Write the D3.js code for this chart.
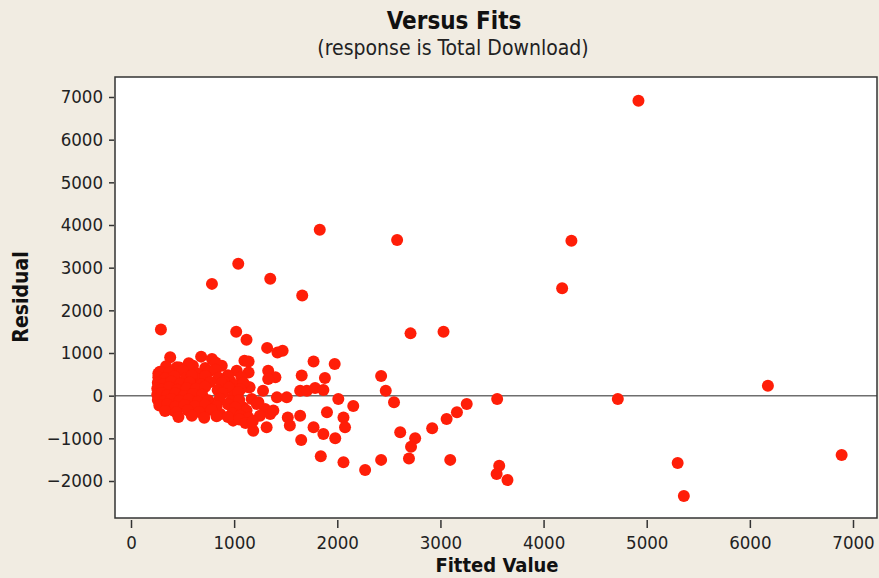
<!DOCTYPE html>
<html lang="en">

<head>
    <meta charset="UTF-8">
    <title>Versus Fits</title>
    <style>
        body { margin: 0; background: #f1ece2; }
        text { font-family: "DejaVu Sans Condensed", "DejaVu Sans", sans-serif; }
    </style>
    <script src="https://d3js.org/d3.v7.min.js"></script>
</head>

<body>
    <script>
        // fitted value / residual pairs
        var fitted = [
            4920, 1830, 2580, 4270, 1040, 1350, 785, 4180, 1660, 290,
            3030, 2710, 1020, 1120, 6175, 4720, 3550, 6890, 5300, 5360,
            1770, 1975, 1655, 1880, 2425, 1640, 1705, 1785, 1865, 2470,
            2010, 2550, 2155, 3255, 3160, 3060, 2920, 1900, 2060, 2075,
            1640, 1770, 1865, 1980, 1650, 2610, 2755, 2715, 2695, 2425,
            3095, 1840, 2060, 2270, 3570, 3545, 3650,
            1320, 1420, 1470, 1100, 1140, 1330, 1400, 1330, 1280, 1140,
            1415, 1510, 1170, 1235, 1300, 1350, 1250, 1155, 1185, 1315,
            1520, 1540, 1380, 1220, 1090, 1120, 990, 865, 735, 410, 280,
            380, 680, 785, 445, 570, 880, 1025, 1140, 265, 960, 1150,
            340, 470, 600, 720, 560, 820,
            280, 370, 500, 640, 760, 820, 940,
            265, 330, 420, 530, 650, 720, 850, 900, 1070, 590,
            260, 310, 390, 480, 570, 680, 770, 880, 1000, 1090,
            255, 300, 370, 450, 540, 630, 720, 840, 950, 1060,
            255, 300, 350, 430, 510, 600, 690, 890, 990, 1040,
            260, 320, 390, 470, 560, 650, 750, 860, 970, 1050,
            275, 350, 430, 520, 620, 720, 830, 940, 1010,
            330, 440, 550, 660, 780, 980, 1060, 1140,
            460, 590, 710, 830, 940, 1050, 1110, 1180
        ];
        var residual = [
            6910, 3890, 3650, 3630, 3090, 2740, 2620, 2520, 2350, 1550,
            1500, 1460, 1500, 1310, 230, -80, -80, -1390, -1580, -2350,
            800, 740, 470, 415, 460, 115, 115, 180, 135, 115,
            -80, -155, -240, -195, -390, -545, -765, -390, -510, -740,
            -470, -740, -900, -1000, -1040, -860, -1000, -1195, -1470, -1505,
            -1505, -1420, -1560, -1740, -1640, -1835, -1975,
            1120, 1010, 1050, 820, 800, 585, 430, 390, 115, 195,
            -40, -40, -80, -155, -310, -430, -470, -625, -820, -740,
            -510, -700, -350, -195, -275, -350, -585, -430, -350, -350, -195,
            900, 915, 860, 665, 625, 700, 585, 545, 520, 350, 195,
            690, 660, 700, 650, 760, 780,
            560, 540, 590, 520, 570, 610, 480,
            430, 400, 450, 410, 380, 460, 420, 330, 440, 480,
            300, 270, 330, 280, 310, 260, 320, 290, 250, 300,
            170, 150, 200, 140, 180, 160, 210, 130, 190, 150,
            30, 60, 10, 50, -10, 40, 20, 60, -20, 80,
            -100, -130, -80, -120, -90, -140, -110, -70, -130, -100,
            -230, -200, -260, -220, -250, -210, -240, -200, -280,
            -360, -390, -340, -380, -330, -420, -470, -520,
            -500, -470, -520, -480, -500, -560, -640, -600
        ];
        var xTicks = [0, 1000, 2000, 3000, 4000, 5000, 6000, 7000];
        var yTicks = [-2000, -1000, 0, 1000, 2000, 3000, 4000, 5000, 6000, 7000];

        var width = 879, height = 578;
        var frame = { left: 115, top: 77, right: 877, bottom: 518 };

        var svg = d3.select("body")
            .append("svg")
            .attr("width", width)
            .attr("height", height)
            .style("display", "block")
            .style("background", "#f1ece2");

        var x = d3.scaleLinear().domain([0, 7000]).range([131, 853]);
        var y = d3.scaleLinear().domain([-2000, 7000]).range([481, 97]);

        // titles
        svg.append("text").attr("x", 454).attr("y", 29).attr("text-anchor", "middle")
            .attr("font-size", "24px").attr("font-weight", "bold").attr("fill", "#111").text("Versus Fits");
        svg.append("text").attr("x", 453).attr("y", 55).attr("text-anchor", "middle")
            .attr("font-size", "21px").attr("fill", "#222").text("(response is Total Download)");

        // plot area
        svg.append("rect")
            .attr("x", frame.left).attr("y", frame.top)
            .attr("width", frame.right - frame.left).attr("height", frame.bottom - frame.top)
            .attr("fill", "white");

        // reference line at zero
        svg.append("line")
            .attr("x1", frame.left).attr("x2", frame.right)
            .attr("y1", y(0)).attr("y2", y(0))
            .attr("stroke", "#6e6e6e").attr("stroke-width", 1.5);

        var points = fitted.map(function (d, i) { return { fit: d, res: residual[i] }; });
        svg.append("g").selectAll("circle")
            .data(points)
            .enter().append("circle")
            .attr("cx", function (d) { return x(d.fit); })
            .attr("cy", function (d) { return y(d.res); })
            .attr("r", 6)
            .attr("fill", "#ff1e08");

        svg.append("rect")
            .attr("x", frame.left).attr("y", frame.top)
            .attr("width", frame.right - frame.left).attr("height", frame.bottom - frame.top)
            .attr("fill", "none").attr("stroke", "#333").attr("stroke-width", 1.5);

        // axes
        var xAxis = svg.append("g").attr("transform", "translate(0," + 520 + ")")
            .call(d3.axisBottom(x).tickValues(xTicks).tickFormat(d3.format("d")).tickSize(8).tickPadding(8));
        var yAxis = svg.append("g").attr("transform", "translate(" + (frame.left - 1) + ",0)")
            .call(d3.axisLeft(y).tickValues(yTicks).tickFormat(d3.format("d")).tickSize(5).tickPadding(6));
        [xAxis, yAxis].forEach(function (a) {
            a.select(".domain").remove();
            a.selectAll("line").attr("stroke", "#333").attr("stroke-width", 1.5);
            a.selectAll("text").attr("font-size", "18.5px").attr("fill", "#222")
                .style("font-family", '"DejaVu Sans Condensed", "DejaVu Sans", sans-serif');
        });

        svg.append("text").attr("x", 497).attr("y", 572).attr("text-anchor", "middle")
            .attr("font-size", "20px").attr("font-weight", "bold").attr("fill", "#111").text("Fitted Value");
        svg.append("text").attr("transform", "translate(28,297) rotate(-90)").attr("text-anchor", "middle")
            .attr("font-size", "21px").attr("font-weight", "bold").attr("fill", "#111").text("Residual");
    </script>
</body>
</html>
